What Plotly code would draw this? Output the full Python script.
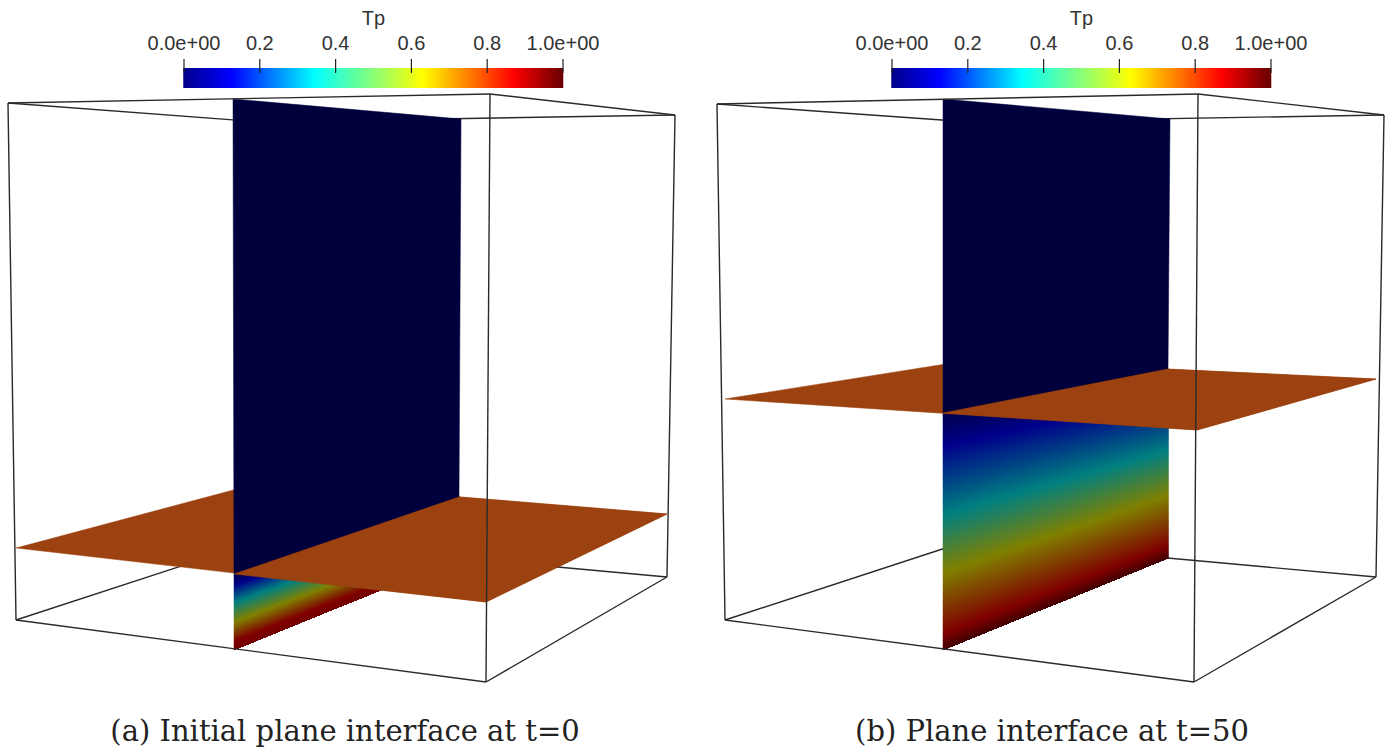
import numpy as np
import plotly.graph_objects as go

W, H = 1389, 751

# Box vertices (top / bottom: left, near, right, far)
LEFT_TOP = [(8, 103), (490, 94), (675, 115), (261, 122)]
LEFT_BOTTOM = [(16, 620), (486, 682), (667, 577), (261, 540)]
RIGHT_TOP = [(717, 104), (1198, 94), (1384, 115), (970, 122)]
RIGHT_BOTTOM = [(725, 620), (1194, 682), (1376, 577), (970, 540)]

# Interface plane: left, far, right, near
LEFT_PLANE = [(16, 548), (267, 481), (667, 514), (486, 602)]
RIGHT_PLANE = [(725, 399), (971, 360), (1376, 379), (1197, 430)]

# Slice: top-left, top-right, interface-right, interface-left, bottom-right, bottom-left
LEFT_SLICE = dict(tl=(233, 99), tr=(461, 119), ir=(459, 497), il=(234, 574), br=(459, 497), bl=(235, 650))
LEFT_LOW_RIGHT = (459, 558)
RIGHT_SLICE = dict(tl=(943, 99), tr=(1170, 119), ir=(1168, 369), il=(943, 413), br=(1168, 558), bl=(945, 650))

BAR_LEFT = (184, 563)
BAR_RIGHT = (892, 1271)
TICK_VALUES = [0.0, 0.2, 0.4, 0.6, 0.8, 1.0]
TICK_LABELS = ["0.0e+00", "0.2", "0.4", "0.6", "0.8", "1.0e+00"]
BAR_TITLE = "Tp"
CAPTIONS = ["(a) Initial plane interface at t=0", "(b) Plane interface at t=50"]
CAPTION_X = [345, 1052]

JET = [[0, "#00008c"], [0.125, "#0000ff"], [0.345, "#00ffff"], [0.49, "#80ff80"],
       [0.63, "#ffff00"], [0.87, "#ff0000"], [1, "#6a0000"]]
DARK_LEFT = [[0, "#000046"], [0.14, "#00008a"], [0.37, "#008080"], [0.63, "#808000"],
             [0.88, "#800000"], [1, "#700000"]]
DARK_RIGHT = [[0, "#00004a"], [0.14, "#00008a"], [0.43, "#008080"], [0.67, "#808000"],
              [0.93, "#800000"], [1, "#400000"]]
ORANGE = "#9c4210"
NAVY = "#00003c"
EDGE = "#2a2a2a"

fig = go.Figure()


def poly(points, color, axes=("x2", "y2")):
    xs = [p[0] for p in points] + [points[0][0]]
    ys = [p[1] for p in points] + [points[0][1]]
    fig.add_trace(go.Scatter(x=xs, y=ys, mode="lines", fill="toself", fillcolor=color,
                             line=dict(color=color, width=0.5), xaxis=axes[0], yaxis=axes[1],
                             hoverinfo="skip", showlegend=False))


def edges(pairs, axes):
    xs, ys = [], []
    for a, b in pairs:
        xs += [a[0], b[0], None]
        ys += [a[1], b[1], None]
    fig.add_trace(go.Scatter(x=xs, y=ys, mode="lines", line=dict(color=EDGE, width=1.4),
                             xaxis=axes[0], yaxis=axes[1], hoverinfo="skip", showlegend=False))


def field(p_top_l, p_top_r, p_bot_l, p_bot_r, scale):
    x = np.arange(p_top_l[0], p_top_r[0] + 0.01, 0.5)
    y = np.arange(min(p_top_l[1], p_top_r[1]), max(p_bot_l[1], p_bot_r[1]) + 0.01, 0.5)
    f = (x - x[0]) / (x[-1] - x[0])
    top = p_top_l[1] + f * (p_top_r[1] - p_top_l[1])
    bot = p_bot_l[1] + f * (p_bot_r[1] - p_bot_l[1])
    t = (y[:, None] - top[None, :]) / (bot - top)[None, :]
    t[(t < 0) | (t > 1)] = np.nan
    fig.add_trace(go.Heatmap(x=x, y=y, z=t, zmin=0, zmax=1, colorscale=scale, showscale=False,
                             xaxis="x2", yaxis="y2", hoverinfo="skip"))


def panel(tops, bots, plane, sl, low_right, scale):
    lt, nt, rt, ft = tops
    lb, nb, rb, fb = bots
    # Hidden edges sit on the base subplot, under every surface
    edges([(lt, ft), (ft, rt), (lb, fb), (fb, rb), (ft, fb)], ("x", "y"))
    # Surfaces
    field(sl["il"], sl["ir"], sl["bl"], low_right, scale)
    poly(plane, ORANGE)
    poly([sl["tl"], sl["tr"], sl["ir"], sl["il"]], NAVY)
    poly([sl["il"], sl["ir"], plane[2], plane[3]], ORANGE)
    # Visible edges
    edges([(lt, nt), (nt, rt), (lb, nb), (nb, rb), (lt, lb), (nt, nb), (rt, rb)], ("x2", "y2"))


panel(LEFT_TOP, LEFT_BOTTOM, LEFT_PLANE, LEFT_SLICE, LEFT_LOW_RIGHT, DARK_LEFT)
panel(RIGHT_TOP, RIGHT_BOTTOM, RIGHT_PLANE, RIGHT_SLICE, RIGHT_SLICE["br"], DARK_RIGHT)

# Colour bars with ticks and labels (two rows centred at 73 and 83 span 68..88)
for (x0, x1) in (BAR_LEFT, BAR_RIGHT):
    bx = np.linspace(x0, x1, 256)
    fig.add_trace(go.Heatmap(x=bx, y=[73, 83], z=[np.linspace(0, 1, 256)] * 2, zmin=0, zmax=1,
                             colorscale=JET, showscale=False, xaxis="x2", yaxis="y2",
                             hoverinfo="skip"))
    tx = [x0 + v * (x1 - x0) for v in TICK_VALUES]
    xs, ys = [], []
    for t in tx:
        xs += [t, t, None]
        ys += [59, 73, None]
    fig.add_trace(go.Scatter(x=xs, y=ys, mode="lines", line=dict(color="#222222", width=1.2),
                             xaxis="x2", yaxis="y2", hoverinfo="skip", showlegend=False))
    fig.add_trace(go.Scatter(x=tx, y=[45] * len(tx), mode="text", text=TICK_LABELS,
                             textposition="middle center",
                             textfont=dict(family="Liberation Sans", size=20, color="#333333"),
                             xaxis="x2", yaxis="y2", hoverinfo="skip", showlegend=False))
    fig.add_trace(go.Scatter(x=[(x0 + x1) / 2], y=[20], mode="text", text=[BAR_TITLE],
                             textposition="middle center",
                             textfont=dict(family="Liberation Sans", size=20, color="#333333"),
                             xaxis="x2", yaxis="y2", hoverinfo="skip", showlegend=False))

fig.add_trace(go.Scatter(x=CAPTION_X, y=[734, 734], mode="text", text=CAPTIONS,
                         textposition="middle center",
                         textfont=dict(family="DejaVu Serif", size=29, color="#222222"),
                         xaxis="x2", yaxis="y2", hoverinfo="skip", showlegend=False))

axis = dict(visible=False, fixedrange=True)
fig.update_layout(
    width=W, height=H, margin=dict(l=0, r=0, t=0, b=0),
    paper_bgcolor="white", plot_bgcolor="white", showlegend=False,
    xaxis=dict(range=[0, W], domain=[0, 1], **axis),
    yaxis=dict(range=[H, 0], domain=[0, 1], **axis),
    xaxis2=dict(range=[0, W], domain=[0, 1], overlaying="x", **axis),
    yaxis2=dict(range=[H, 0], domain=[0, 1], overlaying="y", **axis),
)
fig.write_html("out.html", config={"displayModeBar": False},
               post_script="document.body.style.margin='0';document.body.style.overflow='hidden';")
